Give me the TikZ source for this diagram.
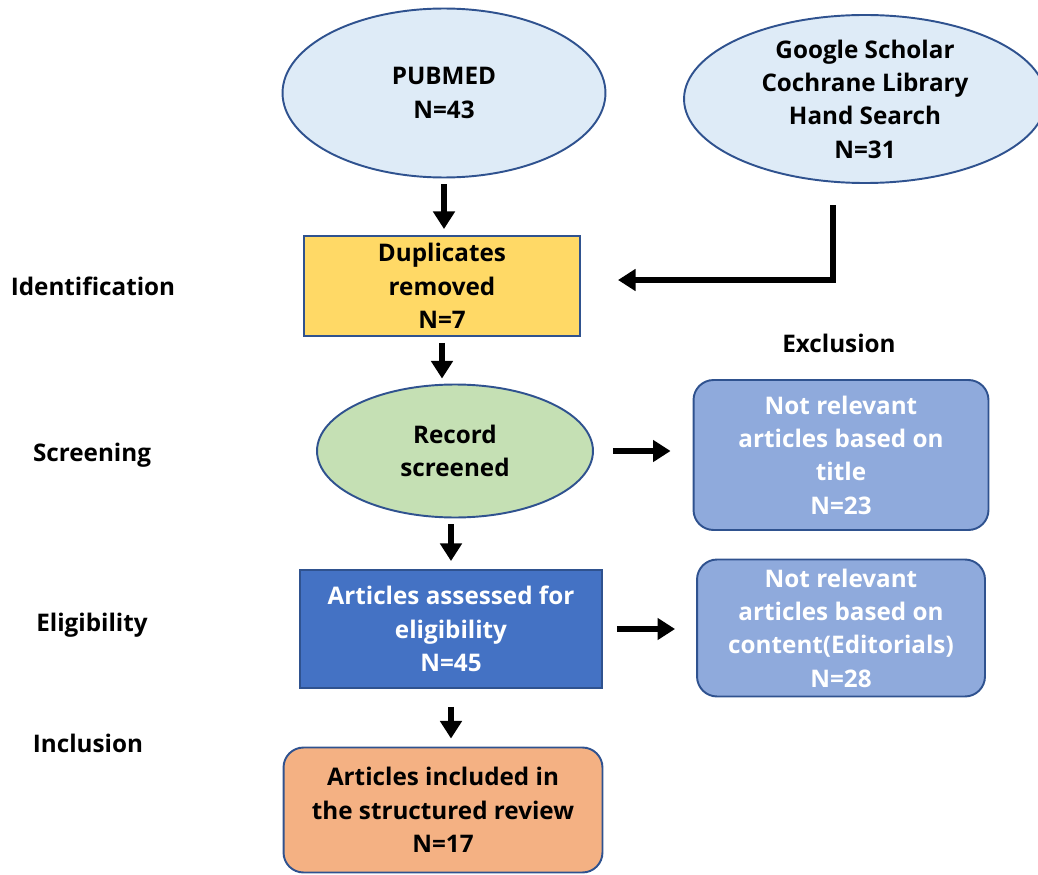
\documentclass[tikz,border=0pt]{standalone}
\usepackage{fontspec}
\setmainfont{Open Sans}[Ligatures=NoCommon]
\usetikzlibrary{shapes.geometric,arrows.meta,positioning,calc}
\definecolor{edge}{HTML}{2F528F}
\definecolor{srcblue}{HTML}{DEEBF7}
\definecolor{dupyellow}{HTML}{FFD966}
\definecolor{scrgreen}{HTML}{C5E0B4}
\definecolor{assblue}{HTML}{4472C4}
\definecolor{exblue}{HTML}{8FAADC}
\definecolor{incorange}{HTML}{F4B183}

\begin{document}
\begin{tikzpicture}[
  x=0.02cm, y=-0.02cm,
  every node/.style={font=\fontsize{13.8}{19}\selectfont\bfseries, align=center},
  oval/.style={ellipse, draw=edge, line width=1.1pt, fill=#1, inner sep=0pt},
  box/.style={rectangle, draw=edge, line width=1.1pt, fill=#1, inner sep=0pt},
  rbox/.style={rectangle, rounded corners=0.4cm, draw=edge, line width=1.1pt, fill=#1, inner sep=0pt},
  arr/.style={-{Triangle[length=10pt,width=12pt]}, line width=3.2pt}
]
  \useasboundingbox (0,0) rectangle (1038,875);

  \node[oval=srcblue, minimum width=6.46cm, minimum height=3.38cm] (pub) at (444,93) {PUBMED\\N=43};
  \node[oval=srcblue, minimum width=7.24cm, minimum height=3.36cm] (gs) at (865,99)
    {Google Scholar\\Cochrane Library\\Hand Search\\N=31};
  \node[box=dupyellow, minimum width=5.52cm, minimum height=2.0cm] (dup) at (442,286)
    {Duplicates\\removed\\N=7};
  \node[oval=scrgreen, minimum width=5.52cm, minimum height=2.66cm] (scr) at (455,451)
    {Record\\screened};
  \node[rbox=exblue, text=white, minimum width=5.9cm, minimum height=3.0cm] (ex1) at (841,455)
    {Not relevant\\articles based on\\title\\N=23};
  \node[box=assblue, text=white, minimum width=6.04cm, minimum height=2.36cm] (ass) at (451,629)
    {Articles assessed for\\eligibility\\N=45};
  \node[rbox=exblue, text=white, minimum width=5.76cm, minimum height=2.74cm] (ex2) at (841,628)
    {Not relevant\\articles based on\\content(Editorials)\\N=28};
  \node[rbox=incorange, minimum width=6.38cm, minimum height=2.5cm] (inc) at (443,810)
    {Articles included in\\the structured review\\N=17};

  % stage labels
  \node (lid) at (93,286) {Identification};
  \node (lscr) at (92,455) {Screening};
  \node (lel) at (92,625) {Eligibility};
  \node (lin) at (88,743) {Inclusion};
  \node (lex) at (839,343) {Exclusion};

  % arrows
  \draw[arr, shorten <=0.12cm, shorten >=0.12cm] (pub.south) -- (pub.south |- dup.north);
  \coordinate (gstart) at (833,205);
  \coordinate (gend) at (618,280);
  \draw[arr] (gstart) |- (gend);
  \draw[arr, shorten <=0.12cm, shorten >=0.1cm] (dup.south) -- (dup.south |- scr.north);
  \draw[arr, shorten <=0.12cm, shorten >=0.16cm] (scr.south -| ass.north) -- (ass.north);
  \draw[arr, shorten <=0.38cm, shorten >=0.44cm] (scr.east) -- (scr.east -| ex1.west);
  \draw[arr, shorten <=0.28cm, shorten >=0.42cm] (ass.east) -- (ass.east -| ex2.west);
  \draw[arr, shorten <=0.36cm, shorten >=0.16cm] (ass.south) -- (ass.south |- inc.north);
\end{tikzpicture}
\end{document}
